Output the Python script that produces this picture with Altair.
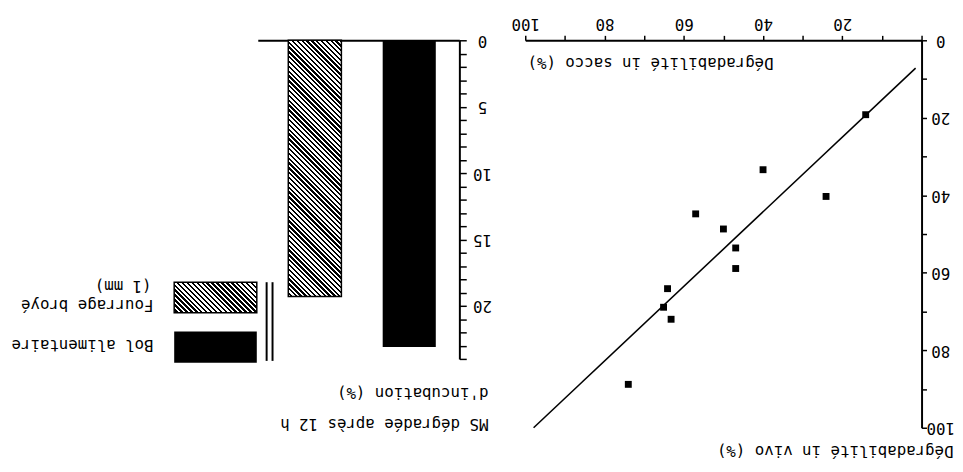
import math
import altair as alt
import pandas as pd

# ---- data ----
sacco = [14.1, 40.0, 24.1, 57.0, 50.0, 46.9, 46.9, 64.1, 65.1, 63.2, 74.0]
vivo = [19.2, 33.4, 40.3, 44.8, 48.7, 53.6, 58.9, 64.1, 68.9, 72.0, 88.8]
line_sacco = [1.5, 97.9]
line_vivo = [7.2, 100.0]

bar_cats = ["Fourrage broyé (1 mm)", "Bol alimentaire"]
bar_vals = [19.3, 23.1]

leg_bol = "Bol alimentaire"
leg_four = "Fourrage broyé"
leg_four2 = "(1 mm)"

title_sacco = "Dégradabilité in sacco (%)"
title_vivo = "Dégradabilité in vivo (%)"
title_ms = ["MS dégradée après 12 h", "d'incubation (%)"]

FONT = "DejaVu Sans Mono"
FS = 16


def hatch(w, h, period=3.5):
    n = int(round((w + h) / math.sqrt(2) / period))
    s = (w + h) / (w * w + h * h)
    stops = []
    for k in range(n):
        a, m, b = k / n, (k + 0.5) / n, (k + 1) / n
        stops += [
            {"offset": a, "color": "black"},
            {"offset": m, "color": "black"},
            {"offset": m, "color": "white"},
            {"offset": min(b, 1.0), "color": "white"},
        ]
    return {"gradient": "linear", "x1": 1, "y1": 0, "x2": 1 - w * s, "y2": h * s, "stops": stops}


df_bar = pd.DataFrame({"cat": bar_cats, "val": bar_vals})
df_pts = pd.DataFrame({"sacco": sacco, "vivo": vivo})
df_line = pd.DataFrame({"sacco": line_sacco, "vivo": line_vivo})
one = pd.DataFrame({"k": [0]})

BW, BH = 205, 324
D = 2  # legend vertical shift

x_bar = alt.X(
    "cat:N", sort=bar_cats,
    scale=alt.Scale(paddingInner=0.4375, paddingOuter=0.2865, align=0.564),
    axis=alt.Axis(orient="top", labels=False, ticks=False, title=None,
                  domainWidth=2, domainColor="black"),
)
y_bar = alt.Y(
    "val:Q",
    scale=alt.Scale(domain=[0, 24], reverse=True, nice=False, zero=True),
    axis=alt.Axis(
        orient="right", values=list(range(0, 25)),
        labelExpr="datum.value % 5 == 0 ? datum.label : ''",
        tickSize=7, tickWidth=1.5, tickColor="black",
        domainWidth=2, domainColor="black",
        labelAngle=180, labelAlign="center", labelBaseline="middle", labelPadding=16,
        labelFont=FONT, labelFontSize=FS, labelColor="black",
        grid=False,
        title=title_ms, titleAngle=180, titleAlign="left", titleBaseline="top",
        titleX=29, titleY=398, titleLineHeight=32,
        titleFont=FONT, titleFontSize=FS, titleFontWeight="normal", titleColor="black",
    ),
)

bar_black = alt.Chart(df_bar).transform_filter(
    alt.datum.cat == bar_cats[1]
).mark_bar(color="black").encode(x=x_bar, y=y_bar)

bar_hatch = alt.Chart(df_bar).transform_filter(
    alt.datum.cat == bar_cats[0]
).mark_bar(fill=hatch(54, 19.3 * BH / 24), stroke="black", strokeWidth=1.5).encode(x=x_bar, y=y_bar)

leg_box_h = alt.Chart(one).mark_rect(fill=hatch(84, 31), stroke="black", strokeWidth=1.5).encode(
    x=alt.value(-85), x2=alt.value(-1), y=alt.value(244 + D), y2=alt.value(275 + D))
leg_box_b = alt.Chart(one).mark_rect(fill="black").encode(
    x=alt.value(-85), x2=alt.value(-1), y=alt.value(294 + D), y2=alt.value(326 + D))
leg_r1 = alt.Chart(one).mark_rule(color="black", strokeWidth=2).encode(
    x=alt.value(9), y=alt.value(244 + D), y2=alt.value(324 + D))
leg_r2 = alt.Chart(one).mark_rule(color="black", strokeWidth=2).encode(
    x=alt.value(15), y=alt.value(244 + D), y2=alt.value(324 + D))

txt_kw = dict(font=FONT, fontSize=FS, angle=180, align="left", baseline="middle", color="black")
leg_t1 = alt.Chart(one).mark_text(**txt_kw).encode(
    x=alt.value(-106), y=alt.value(308 + D), text=alt.value(leg_bol))
leg_t2 = alt.Chart(one).mark_text(**txt_kw).encode(
    x=alt.value(-106), y=alt.value(267 + D), text=alt.value(leg_four))
leg_t3 = alt.Chart(one).mark_text(**txt_kw).encode(
    x=alt.value(-108), y=alt.value(248 + D), text=alt.value(leg_four2))

bars = alt.layer(bar_black, bar_hatch, leg_box_h, leg_box_b, leg_r1, leg_r2,
                 leg_t1, leg_t2, leg_t3).properties(width=BW, height=BH)

# ---- scatter ----
SW, SH = 403, 394
x_sc = alt.X(
    "sacco:Q",
    scale=alt.Scale(domain=[0, 100], reverse=True, nice=False),
    axis=alt.Axis(
        orient="top", values=list(range(0, 101, 10)),
        labelExpr="datum.value % 20 == 0 && datum.value > 0 ? datum.label : ''",
        tickSize=5, tickWidth=1.5, tickColor="black",
        domainWidth=2, domainColor="black", grid=False,
        labelAngle=180, labelAlign="center", labelBaseline="middle", labelPadding=12,
        labelFlush=False, labelOverlap=False,
        labelFont=FONT, labelFontSize=FS, labelColor="black",
        title=title_sacco, titleAngle=180, titleAlign="left", titleBaseline="middle",
        titleX=252, titleY=23,
        titleFont=FONT, titleFontSize=FS, titleFontWeight="normal", titleColor="black",
    ),
)
y_sc = alt.Y(
    "vivo:Q",
    scale=alt.Scale(domain=[0, 100], reverse=True, nice=False),
    axis=alt.Axis(
        orient="right", values=list(range(0, 101, 10)),
        labelExpr="datum.value % 20 == 0 ? datum.label : ''",
        tickSize=5, tickWidth=1.5, tickColor="black",
        domainWidth=2, domainColor="black", grid=False,
        labelAngle=180, labelAlign="center", labelBaseline="middle", labelPadding=14,
        labelFlush=False, labelOverlap=False,
        labelFont=FONT, labelFontSize=FS, labelColor="black",
        title=title_vivo, titleAngle=180, titleAlign="left", titleBaseline="middle",
        titleX=32, titleY=417,
        titleFont=FONT, titleFontSize=FS, titleFontWeight="normal", titleColor="black",
    ),
)

pts = alt.Chart(df_pts).mark_square(size=49, color="black", opacity=1).encode(x=x_sc, y=y_sc)
reg = alt.Chart(df_line).mark_line(color="black", strokeWidth=1.6).encode(x=x_sc, y=y_sc)
scatter = alt.layer(reg, pts).properties(width=SW, height=SH)

chart = alt.hconcat(bars, scatter, spacing=67, bounds="flush").properties(
    padding={"left": 3, "top": 3, "right": 0, "bottom": 0},
    background="white",
).configure_view(stroke=None, strokeWidth=0)

chart.save("out.html", embed_options={"renderer": "svg", "actions": False})
